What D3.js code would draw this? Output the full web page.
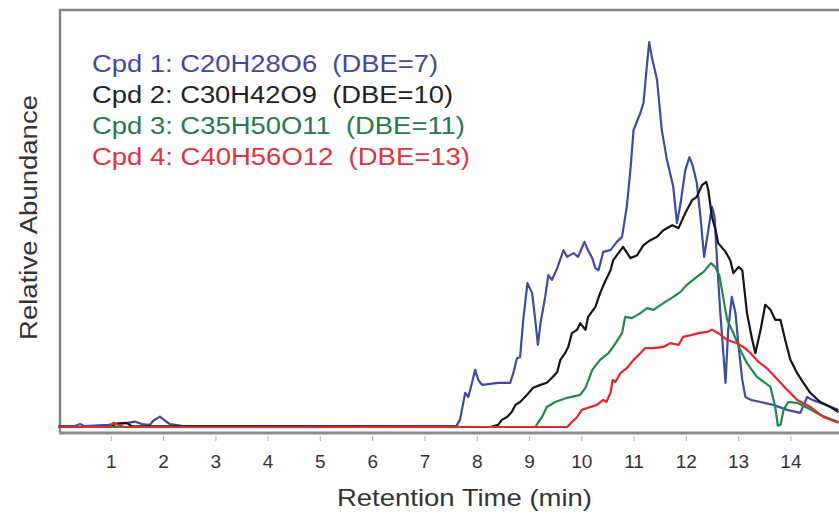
<!DOCTYPE html>
<html>
<head>
<meta charset="utf-8">
<script src="https://cdn.jsdelivr.net/npm/d3@7"></script>
<style>
  body { margin: 0; background: #fff; }
  text { font-family: "Liberation Sans", Arial, sans-serif; }
</style>
</head>
<body>
<script>
const width = 839;
const height = 513;

// retention time ticks
const tickValues = [1,2,3,4,5,6,7,8,9,10,11,12,13,14];

// [time (min), relative abundance]
const cpd1 = [[0,0.2],[0.3,0.2],[0.41,0.7],[0.5,0.2],[0.95,0.5],[1.33,1.0],[1.46,1.3],[1.59,0.7],[1.75,0.5],[1.81,1.5],[1.94,2.5],[2.04,1.5],[2.13,0.7],[2.23,0.5],[2.38,0.2],[7.61,0.2],[7.68,1.7],[7.78,8.2],[7.84,7.2],[7.91,10.6],[7.97,13.7],[8.03,11.3],[8.10,10.1],[8.22,10.3],[8.41,10.6],[8.64,10.6],[8.70,12.9],[8.77,16.5],[8.83,16.8],[8.89,25.7],[8.97,34.5],[9.06,32.1],[9.12,25.7],[9.17,19.7],[9.22,24.9],[9.31,31.2],[9.37,36.4],[9.44,35.3],[9.54,38.1],[9.66,42.4],[9.73,40.8],[9.85,41.7],[9.94,40.8],[10.06,44.4],[10.13,42.4],[10.21,40.5],[10.27,38.1],[10.33,37.6],[10.42,42.0],[10.56,42.4],[10.68,44.4],[10.78,45.6],[10.87,52.8],[10.94,61.6],[11.00,71.2],[11.13,75.3],[11.19,77.7],[11.26,87.3],[11.30,92.3],[11.35,88.7],[11.45,83.2],[11.54,71.2],[11.64,64.0],[11.76,57.6],[11.83,48.9],[11.90,53.7],[11.99,61.6],[12.07,64.7],[12.14,62.3],[12.21,58.5],[12.28,50.4],[12.35,40.8],[12.43,47.2],[12.50,52.8],[12.55,50.4],[12.60,39.3],[12.66,27.3],[12.76,10.6],[12.81,23.3],[12.88,31.2],[12.95,27.3],[13.01,19.2],[13.08,11.3],[13.14,7.2],[13.24,6.5],[13.43,6.0],[13.67,5.3],[13.94,4.1],[14.19,3.4],[14.32,7.2],[14.42,6.5],[14.57,5.8],[14.77,4.8],[14.92,4.1]];

const cpd2 = [[0,0],[1.0,0],[1.1,0.8],[1.3,1.0],[1.4,0.2],[8.26,0],[8.41,0.5],[8.48,1.7],[8.58,2.4],[8.67,3.6],[8.74,5.3],[8.83,6.0],[8.96,7.7],[9.08,9.4],[9.22,10.1],[9.34,10.6],[9.44,11.8],[9.54,13.2],[9.60,16.1],[9.69,17.7],[9.75,19.2],[9.82,22.5],[9.92,23.3],[9.98,24.9],[10.08,23.3],[10.13,26.4],[10.27,28.8],[10.36,32.1],[10.46,35.0],[10.56,37.6],[10.61,40.0],[10.80,43.2],[10.94,40.5],[11.07,41.2],[11.19,43.6],[11.32,44.8],[11.45,45.6],[11.57,47.2],[11.74,48.4],[11.86,47.7],[11.99,51.3],[12.12,54.4],[12.21,55.2],[12.31,58.0],[12.39,58.8],[12.43,56.8],[12.50,50.4],[12.56,47.7],[12.62,44.1],[12.76,42.0],[12.85,40.0],[12.91,36.9],[13.01,38.4],[13.08,37.6],[13.17,27.3],[13.27,20.9],[13.33,17.7],[13.43,23.3],[13.52,29.3],[13.62,28.1],[13.71,25.7],[13.81,25.7],[13.90,20.9],[14.00,16.1],[14.13,12.9],[14.25,10.6],[14.38,8.2],[14.57,6.0],[14.77,4.8],[14.92,3.6]];

const cpd3 = [[0,0],[9.12,0],[9.18,1.2],[9.25,2.4],[9.34,4.8],[9.50,6.0],[9.73,7.0],[9.98,7.7],[10.08,9.4],[10.21,13.7],[10.36,16.1],[10.52,17.7],[10.61,19.2],[10.78,22.5],[10.84,26.4],[10.97,26.1],[11.13,27.3],[11.26,28.5],[11.38,28.1],[11.57,29.7],[11.76,31.2],[11.90,32.4],[12.02,34.1],[12.21,36.0],[12.34,37.2],[12.48,39.3],[12.56,38.4],[12.64,36.4],[12.69,32.9],[12.79,25.7],[12.91,22.5],[13.04,18.5],[13.17,15.3],[13.36,12.0],[13.62,9.6],[13.71,4.8],[13.76,0.3],[13.81,0.5],[13.87,4.1],[13.96,6.0],[14.13,5.8],[14.32,4.6],[14.57,2.9],[14.92,1.2]];

const cpd4 = [[0,0],[0.95,0],[1.05,1.0],[1.15,0.5],[1.25,0],[9.73,0],[9.82,1.2],[9.92,2.4],[10.01,4.1],[10.13,4.6],[10.30,5.3],[10.42,6.5],[10.48,6.0],[10.56,8.2],[10.60,11.3],[10.65,10.8],[10.75,12.9],[10.87,14.1],[11.00,16.1],[11.13,17.7],[11.22,18.9],[11.38,18.9],[11.57,19.2],[11.70,20.1],[11.86,19.7],[11.95,21.6],[12.12,22.1],[12.24,22.5],[12.41,22.8],[12.50,23.3],[12.62,22.5],[12.79,20.9],[12.98,20.1],[13.10,19.2],[13.24,17.7],[13.39,15.6],[13.55,14.1],[13.71,12.0],[13.94,8.9],[14.13,6.5],[14.38,4.8],[14.63,2.4],[14.92,1.0]];

const series = [
  {name: "Cpd 1: C20H28O6  (DBE=7)", data: cpd1, color: "#3e4b9f", text: "#3f4aa0", len: 346},
  {name: "Cpd 2: C30H42O9  (DBE=10)", data: cpd2, color: "#151515", text: "#222222", len: 361},
  {name: "Cpd 3: C35H50O11  (DBE=11)", data: cpd3, color: "#1f8a47", text: "#26794a", len: 373},
  {name: "Cpd 4: C40H56O12  (DBE=13)", data: cpd4, color: "#e8252b", text: "#e0333c", len: 378}
];

const svg = d3.select("body")
    .append("svg")
    .attr("width", width)
    .attr("height", height);

const x = d3.scaleLinear()
    .domain([0, 14.93])
    .range([58.5, 839]);

const y = d3.scaleLinear()
    .domain([0, 100])
    .range([427, 10]);

// frame (left + top) and bottom axis line
svg.append("path")
    .attr("d", "M60,433 V10 H839")
    .attr("fill", "none")
    .attr("stroke", "#858585")
    .attr("stroke-width", 2.5);

svg.append("line")
    .attr("x1", 59).attr("x2", 839)
    .attr("y1", 433).attr("y2", 433)
    .attr("stroke", "#8c8c8c")
    .attr("stroke-width", 3);

const xAxis = d3.axisBottom(x)
    .tickValues(tickValues)
    .tickSize(5)
    .tickPadding(14)
    .tickFormat(d3.format("d"));

const gx = svg.append("g")
    .attr("transform", "translate(0,436)")
    .call(xAxis);
gx.select(".domain").remove();
gx.selectAll(".tick line").attr("stroke", "#bdbdbd").attr("stroke-width", 1.2);
gx.selectAll(".tick text")
    .attr("fill", "#333")
    .style("font-size", "19px");

// curves (red drawn last, on top)
const line = d3.line()
    .x(d => x(d[0]))
    .y(d => y(d[1]));

const plot = svg.append("g");
plot.selectAll("path")
    .data(series)
    .enter()
    .append("path")
    .attr("d", d => line(d.data))
    .attr("fill", "none")
    .attr("stroke", d => d.color)
    .attr("stroke-width", 2.2)
    .attr("stroke-linejoin", "round");

// legend
svg.selectAll(".legend")
    .data(series)
    .enter()
    .append("text")
    .attr("class", "legend")
    .attr("x", 92)
    .attr("y", (d, i) => 72 + i * 31)
    .attr("fill", d => d.text)
    .attr("textLength", d => d.len)
    .attr("lengthAdjust", "spacingAndGlyphs")
    .style("font-size", "23px")
    .style("white-space", "pre")
    .text(d => d.name);

// axis titles
svg.append("text")
    .attr("x", 337)
    .attr("y", 506)
    .attr("fill", "#333")
    .attr("textLength", 255)
    .attr("lengthAdjust", "spacingAndGlyphs")
    .style("font-size", "24px")
    .text("Retention Time (min)");

svg.append("text")
    .attr("transform", "translate(37,340) rotate(-90)")
    .attr("fill", "#333")
    .attr("textLength", 245)
    .attr("lengthAdjust", "spacingAndGlyphs")
    .style("font-size", "23px")
    .text("Relative Abundance");
</script>
</body>
</html>
